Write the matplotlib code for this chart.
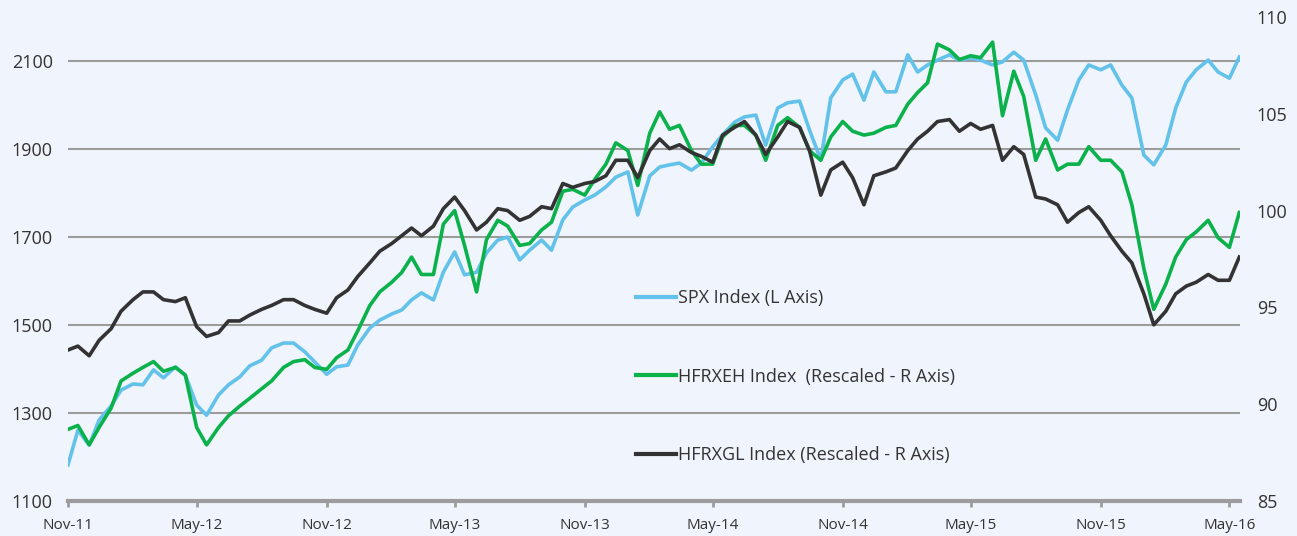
import pandas as pd
import matplotlib
matplotlib.use('Agg')
import matplotlib.pyplot as plt
import matplotlib.dates as mdates
from matplotlib.lines import Line2D

plt.rcParams['font.family'] = ['Open Sans', 'DejaVu Sans']

# semi-monthly observations, Nov-2011 .. mid May-2016
dates = pd.date_range('2011-11-01', '2016-05-15', freq='SMS')

spx = [1182, 1261, 1227, 1284, 1316, 1352, 1366, 1364, 1398, 1380,
       1405, 1386, 1318, 1295, 1341, 1364, 1382, 1407, 1420, 1448,
       1459, 1459, 1439, 1416, 1388, 1405, 1409, 1455, 1493, 1511,
       1525, 1534, 1557, 1573, 1557, 1620, 1666, 1614, 1620, 1664,
       1693, 1700, 1648, 1670, 1693, 1670, 1739, 1768, 1784, 1795,
       1814, 1836, 1848, 1750, 1839, 1859, 1864, 1868, 1852, 1868,
       1905, 1932, 1961, 1973, 1977, 1909, 1993, 2005, 2009, 1943,
       1875, 2016, 2057, 2070, 2011, 2075, 2030, 2030, 2114, 2075,
       2091, 2102, 2114, 2102, 2107, 2102, 2091, 2098, 2120, 2102,
       2023, 1948, 1920, 1989, 2057, 2091, 2080, 2091, 2045, 2016,
       1886, 1864, 1909, 1993, 2052, 2080, 2102, 2075, 2061, 2109]

hfrxeh = [88.7, 88.9, 87.9, 88.8, 89.8, 91.2, 91.6, 91.9, 92.2, 91.7,
          91.9, 91.5, 88.8, 87.9, 88.8, 89.4, 89.9, 90.3, 90.8, 91.2,
          91.9, 92.2, 92.3, 91.9, 91.8, 92.4, 92.8, 93.8, 95.1, 95.8,
          96.3, 96.8, 97.6, 96.7, 96.7, 99.3, 100.0, 98.2, 95.8, 98.5,
          99.5, 99.2, 98.2, 98.3, 99.0, 99.4, 101.0, 101.1, 100.8, 101.6,
          102.4, 103.5, 103.1, 101.3, 104.0, 105.1, 104.2, 104.4, 103.1, 102.4,
          102.4, 103.8, 104.4, 104.4, 103.9, 102.6, 104.4, 104.8, 104.3, 103.1,
          102.6, 103.8, 104.6, 104.1, 103.9, 104.0, 104.3, 104.4, 105.5, 106.1,
          106.6, 108.6, 108.3, 107.8, 108.0, 107.9, 108.7, 104.9, 107.2, 105.9,
          102.6, 103.7, 102.1, 102.4, 102.4, 103.3, 102.6, 102.6, 102.0, 100.3,
          97.0, 94.9, 96.2, 97.6, 98.5, 98.9, 99.5, 98.6, 98.1, 99.9]

hfrxgl = [92.8, 93.0, 92.5, 93.3, 93.9, 94.8, 95.4, 95.8, 95.8, 95.4,
          95.3, 95.5, 94.0, 93.5, 93.7, 94.3, 94.3, 94.6, 94.9, 95.1,
          95.4, 95.4, 95.1, 94.9, 94.7, 95.5, 95.9, 96.6, 97.3, 97.9,
          98.3, 98.7, 99.1, 98.7, 99.2, 100.1, 100.7, 100.0, 99.0, 99.4,
          100.1, 100.0, 99.5, 99.7, 100.2, 100.1, 101.4, 101.2, 101.4, 101.5,
          101.8, 102.6, 102.6, 101.7, 103.1, 103.7, 103.2, 103.4, 103.0, 102.8,
          102.5, 103.9, 104.3, 104.6, 103.9, 102.9, 103.8, 104.6, 104.3, 103.1,
          100.8, 102.1, 102.5, 101.7, 100.3, 101.8, 102.0, 102.2, 103.1, 103.7,
          104.1, 104.6, 104.7, 104.1, 104.5, 104.2, 104.4, 102.6, 103.3, 102.9,
          100.7, 100.6, 100.3, 99.4, 99.9, 100.2, 99.5, 98.7, 97.9, 97.3,
          95.7, 94.1, 94.8, 95.7, 96.1, 96.3, 96.7, 96.4, 96.4, 97.6]

xtick_dates = ['2011-11-01', '2012-05-01', '2012-11-01', '2013-05-01', '2013-11-01',
               '2014-05-01', '2014-11-01', '2015-05-01', '2015-11-01', '2016-05-01']

labels = ['SPX Index (L Axis)', 'HFRXEH Index  (Rescaled - R Axis)',
          'HFRXGL Index (Rescaled - R Axis)']
colors = ['#62c2ea', '#0bb14a', '#333333']

bg = '#f0f4fd'
grid_c = '#9c9c9c'
text_c = '#333333'

fig = plt.figure(figsize=(12.97, 5.36), dpi=100, facecolor=bg)
ax = fig.add_axes([68 / 1297, 35 / 536, 1172 / 1297, 484 / 536])
ax.set_facecolor(bg)
ax2 = ax.twinx()

ax.plot(dates, spx, color=colors[0], lw=2.6, solid_joinstyle='round', zorder=3)
ax2.plot(dates, hfrxeh, color=colors[1], lw=2.6, solid_joinstyle='round')
ax2.plot(dates, hfrxgl, color=colors[2], lw=2.6, solid_joinstyle='round')

ax.set_ylim(1100, 2200)
ax2.set_ylim(85, 110)
ax.set_yticks(range(1100, 2101, 200))
ax2.set_yticks(range(85, 111, 5))
ax.set_xlim(pd.Timestamp('2011-11-01'), pd.Timestamp('2016-05-16'))
ax.set_xticks(pd.to_datetime(xtick_dates))
ax.xaxis.set_major_formatter(mdates.DateFormatter('%b-%y'))

ax.grid(axis='y', color=grid_c, lw=1.5)
ax.set_axisbelow(True)
for a in (ax, ax2):
    for s in a.spines.values():
        s.set_visible(False)
ax.spines['bottom'].set_visible(True)
ax.spines['bottom'].set_color(grid_c)
ax.spines['bottom'].set_linewidth(3)

ax.tick_params(axis='y', length=0, pad=11, labelsize=13, labelcolor=text_c)
ax2.tick_params(axis='y', length=0, pad=12, labelsize=13, labelcolor=text_c)
ax.tick_params(axis='x', length=4, width=2, color=grid_c, pad=8,
               labelsize=11, labelcolor=text_c)

handles = [Line2D([], [], color=c, lw=3) for c in colors]
leg = ax2.legend(handles, labels, loc='center left', bbox_to_anchor=(0.485, 0.257),
                 frameon=False, handlelength=2.2, handletextpad=0.1,
                 labelspacing=3.35, borderaxespad=0, borderpad=0, fontsize=13)
for t in leg.get_texts():
    t.set_color(text_c)

fig.savefig('out.png', dpi=100, facecolor=bg)
